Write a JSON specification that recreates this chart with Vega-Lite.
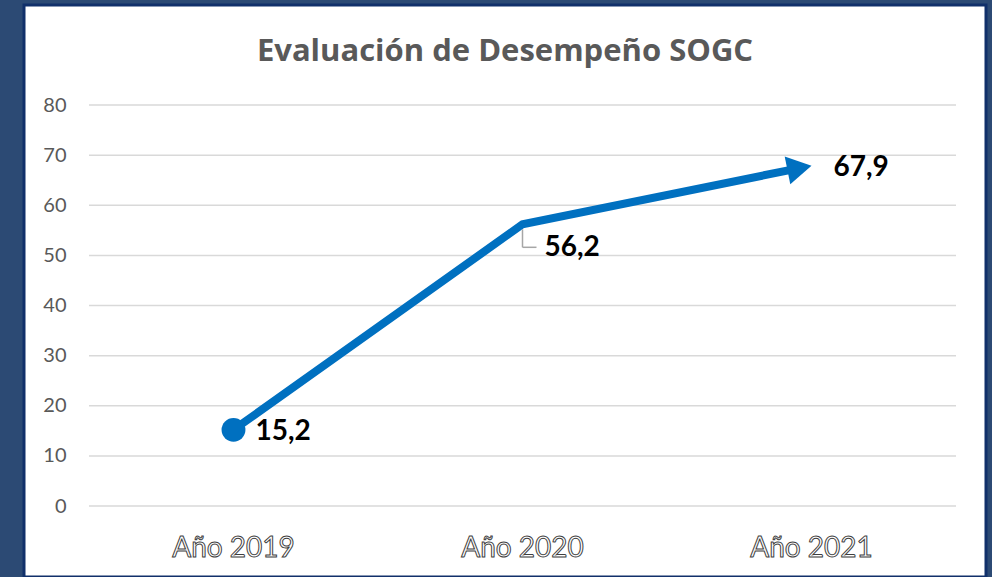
{
  "$schema": "https://vega.github.io/schema/vega-lite/v6.json",
  "width": 962,
  "height": 572,
  "autosize": {"type": "none"},
  "padding": {"left": 24, "top": 5, "right": 6, "bottom": 0},
  "background": "#2C4A74",
  "config": {
    "view": {"fill": "white", "stroke": "#11306A", "strokeWidth": 3},
    "locale": {"number": {"decimal": ",", "thousands": ".", "grouping": [3], "currency": ["", " €"]}},
    "font": "Lato"
  },
  "title": {
    "text": "Evaluación de Desempeño SOGC",
    "anchor": "middle",
    "frame": "group",
    "offset": -87,
    "baseline": "alphabetic",
    "font": "Open Sans",
    "fontSize": 31,
    "fontWeight": "bold",
    "color": "#595959"
  },
  "datasets": {
    "main": [
      {"year": "Año 2019", "idx": 0, "value": 15.2},
      {"year": "Año 2020", "idx": 1, "value": 56.2},
      {"year": "Año 2021", "idx": 2, "value": 67.9}
    ],
    "grid": [
      {"g": 0}, {"g": 10}, {"g": 20}, {"g": 30}, {"g": 40},
      {"g": 50}, {"g": 60}, {"g": 70}, {"g": 80}
    ]
  },
  "layer": [
    {
      "data": {"name": "grid"},
      "mark": {"type": "rule", "color": "#D9D9D9", "strokeWidth": 1.5},
      "encoding": {
        "y": {
          "field": "g", "type": "quantitative",
          "scale": {"domain": [-14.16, 99.95], "nice": false, "zero": false},
          "axis": {
            "values": [0, 10, 20, 30, 40, 50, 60, 70, 80],
            "domain": false, "ticks": false, "grid": false, "title": null,
            "offset": -44, "labelPadding": 2,
            "labelFont": "Lato", "labelFontSize": 20, "labelColor": "#595959"
          }
        },
        "x": {
          "datum": -0.5, "type": "quantitative",
          "scale": {"domain": [-0.7249, 2.6038], "nice": false, "zero": false},
          "axis": null
        },
        "x2": {"datum": 2.5}
      }
    },
    {
      "data": {"name": "main"},
      "mark": {"type": "line", "color": "#0070C0", "strokeWidth": 8, "strokeCap": "butt", "strokeDash": [640, 100]},
      "encoding": {
        "x": {"field": "idx", "type": "quantitative", "scale": {"domain": [-0.7249, 2.6038], "nice": false, "zero": false}, "axis": null},
        "y": {"field": "value", "type": "quantitative", "scale": {"domain": [-14.16, 99.95], "nice": false, "zero": false}}
      }
    },
    {
      "data": {"name": "main"},
      "transform": [{"filter": "datum.idx === 0"}],
      "mark": {"type": "point", "shape": "circle", "filled": true, "size": 570, "opacity": 1, "color": "#0070C0"},
      "encoding": {
        "x": {"field": "idx", "type": "quantitative"},
        "y": {"field": "value", "type": "quantitative"}
      }
    },
    {
      "data": {"name": "main"},
      "transform": [{"filter": "datum.idx === 2"}],
      "mark": {"type": "point", "shape": "triangle-right", "filled": true, "size": 800, "opacity": 1, "color": "#0070C0", "angle": 348.6, "xOffset": -12, "yOffset": 2.4},
      "encoding": {
        "x": {"field": "idx", "type": "quantitative"},
        "y": {"field": "value", "type": "quantitative"}
      }
    },
    {
      "data": {"name": "main"},
      "transform": [{"filter": "datum.idx === 1"}],
      "mark": {"type": "rule", "color": "#A6A6A6", "strokeWidth": 1.5, "yOffset": 5, "y2Offset": 23},
      "encoding": {
        "x": {"field": "idx", "type": "quantitative"},
        "y": {"field": "value", "type": "quantitative"},
        "x2": {"field": "idx"},
        "y2": {"field": "value"}
      }
    },
    {
      "data": {"name": "main"},
      "transform": [{"filter": "datum.idx === 1"}],
      "mark": {"type": "rule", "color": "#A6A6A6", "strokeWidth": 1.5, "yOffset": 23, "y2Offset": 23, "x2Offset": 14},
      "encoding": {
        "x": {"field": "idx", "type": "quantitative"},
        "y": {"field": "value", "type": "quantitative"},
        "x2": {"field": "idx"},
        "y2": {"field": "value"}
      }
    },
    {
      "data": {"name": "main"},
      "transform": [{"filter": "datum.idx !== 1"}],
      "mark": {"type": "text", "align": "left", "baseline": "middle", "dx": 22, "dy": 2, "font": "Lato", "fontSize": 28, "fontWeight": "bold", "color": "#000000"},
      "encoding": {
        "x": {"field": "idx", "type": "quantitative"},
        "y": {"field": "value", "type": "quantitative"},
        "text": {"field": "value", "type": "quantitative", "format": ".1f"}
      }
    },
    {
      "data": {"name": "main"},
      "transform": [{"filter": "datum.idx === 1"}],
      "mark": {"type": "text", "align": "left", "baseline": "middle", "dx": 22, "dy": 24, "font": "Lato", "fontSize": 28, "fontWeight": "bold", "color": "#000000"},
      "encoding": {
        "x": {"field": "idx", "type": "quantitative"},
        "y": {"field": "value", "type": "quantitative"},
        "text": {"field": "value", "type": "quantitative", "format": ".1f"}
      }
    },
    {
      "data": {"name": "main"},
      "mark": {"type": "text", "align": "center", "baseline": "alphabetic", "font": "Lato", "fontSize": 28, "fill": "#FFFFFF", "stroke": "#3F3F3F", "strokeWidth": 1},
      "encoding": {
        "x": {"field": "idx", "type": "quantitative"},
        "y": {"datum": -10.2, "type": "quantitative"},
        "text": {"field": "year", "type": "nominal"}
      }
    }
  ]
}
